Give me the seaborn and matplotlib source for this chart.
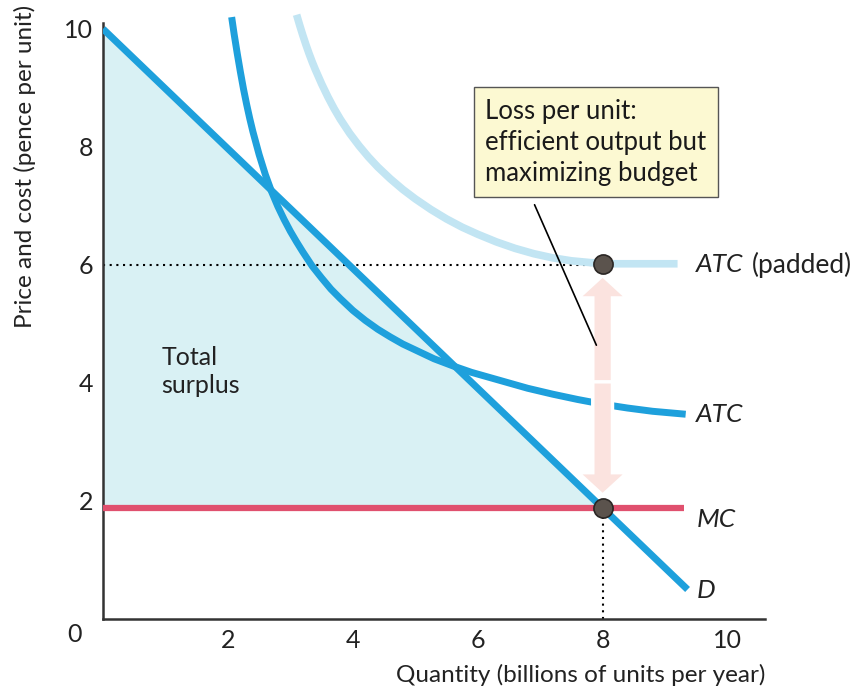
import matplotlib
matplotlib.use("Agg")
import matplotlib.pyplot as plt
import matplotlib.patheffects as pe
import seaborn as sns

# demand curve D
d_x = [0, 8, 9.36]
d_y = [10, 1.88, 0.5]

# marginal cost MC (flat)
mc_x = [0, 9.31]
mc_y = [1.88, 1.88]

# average total cost ATC
atc_x = [2.06, 2.1, 2.15, 2.2, 2.25, 2.3, 2.35, 2.4, 2.5, 2.6, 2.7, 2.8, 2.9, 3.0,
         3.1, 3.2, 3.35, 3.5, 3.65, 3.8, 4.0, 4.2, 4.4, 4.6, 4.8, 5.0, 5.3, 5.6,
         5.9, 6.2, 6.5, 6.8, 7.2, 7.6, 8.0, 8.4, 8.8, 9.33]
atc_y = [10.2, 9.91, 9.58, 9.27, 8.98, 8.72, 8.48, 8.26, 7.87, 7.53, 7.24, 6.99, 6.77, 6.57,
         6.39, 6.22, 5.98, 5.78, 5.59, 5.43, 5.23, 5.06, 4.91, 4.78, 4.66, 4.56, 4.41, 4.29,
         4.18, 4.09, 4.0, 3.91, 3.81, 3.72, 3.64, 3.575, 3.52, 3.47]

# padded ATC
pad_x = [3.10, 3.15, 3.2, 3.25, 3.3, 3.35, 3.4, 3.5, 3.6, 3.7, 3.8, 3.95, 4.1, 4.25,
         4.4, 4.6, 4.8, 5.0, 5.25, 5.5, 5.75, 6.0, 6.3, 6.6, 6.9, 7.2, 7.5, 7.8,
         8.1, 8.6, 9.2]
pad_y = [10.24, 10.06, 9.89, 9.73, 9.58, 9.44, 9.31, 9.07, 8.85, 8.65, 8.47, 8.23, 8.02, 7.83,
         7.66, 7.46, 7.28, 7.12, 6.94, 6.78, 6.64, 6.52, 6.39, 6.28, 6.19, 6.12, 6.07, 6.04,
         6.02, 6.02, 6.02]

# points
q_eff = 8
p_padded = 6.02
p_mc = 1.88

x_ticks = [2, 4, 6, 8, 10]
y_ticks = [2, 4, 6, 8, 10]

blue = "#1ea0dc"
light_blue = "#c2e5f3"
red = "#e0506e"
fill_col = "#d9f1f4"
dot_col = "#5b534d"
arrow_col = "#fbe3df"

sns.set_theme(style="white")
plt.rcParams["font.family"] = ["Lato", "DejaVu Sans"]

fig = plt.figure(figsize=(8.58, 6.9), dpi=100)
ax = fig.add_axes([103 / 858, 1 - 619 / 690, 662 / 858, 596 / 690])

# total surplus
ax.fill_between(d_x[:2], d_y[:2], mc_y[0], color=fill_col, lw=0, zorder=1)

ax.plot([0, q_eff], [6, 6], color="black", ls=(0, (1, 2.2)), lw=1.5, zorder=2)
ax.plot([q_eff, q_eff], [0, p_mc], color="black", ls=(0, (1, 2.2)), lw=1.5, zorder=2)

sns.lineplot(x=pad_x, y=pad_y, ax=ax, color=light_blue, lw=5.5, estimator=None, sort=False, zorder=3)
ax.lines[-1].set_clip_on(False)
sns.lineplot(x=mc_x, y=mc_y, ax=ax, color=red, lw=4.5, estimator=None, sort=False, zorder=3)
sns.lineplot(x=atc_x, y=atc_y, ax=ax, color=blue, lw=5, estimator=None, sort=False, zorder=4)
ax.lines[-1].set_clip_on(False)
sns.lineplot(x=d_x, y=d_y, ax=ax, color=blue, lw=5, estimator=None, sort=False, zorder=4)
for ln in ax.lines[-4:]:
    ln.set_solid_joinstyle("round")
    ln.set_solid_capstyle("butt")

# double arrow: loss per unit
mid = (p_padded + p_mc) / 2 + 0.04
for end in (5.78, 2.14):
    ax.arrow(q_eff, mid, 0, end - mid, width=0.26, head_width=0.64, head_length=0.31,
             length_includes_head=True, color=arrow_col, lw=0, zorder=5,
             path_effects=[pe.Stroke(linewidth=5, foreground="white"), pe.Normal()])

ax.scatter([q_eff, q_eff], [p_padded, p_mc], s=190, color=dot_col, edgecolor="#2a2624",
           lw=1.2, zorder=7)

# callout
ax.plot([6.91, 7.90], [7.02, 4.64], color="black", lw=1.2, zorder=6)
ax.text(6.12, 8.08, "Loss per unit:\nefficient output but\nmaximizing budget",
        fontsize=18.5, va="center", ha="left", linespacing=1.3, color="#1a1a1a", zorder=8,
        bbox=dict(boxstyle="square,pad=0.45", fc="#fcf9d2", ec="#555555", lw=1))

# curve labels
t = ax.text(9.5, 6.0, "ATC", style="italic", fontsize=19, va="center", color="#222222")
ax.annotate("(padded)", xy=(1, 0.5), xycoords=t, xytext=(6, 0), textcoords="offset points",
            fontsize=19, va="center", color="#222222")
ax.text(9.5, 3.46, "ATC", style="italic", fontsize=19, va="center", color="#222222")
ax.text(9.5, 1.68, "MC", style="italic", fontsize=19, va="center", color="#222222")
ax.text(9.5, 0.49, "D", style="italic", fontsize=19, va="center", color="#222222")
ax.text(0.94, 4.2, "Total\nsurplus", fontsize=18, va="center", ha="left",
        linespacing=1.25, color="#222222")

ax.set_xlim(0, 10.6)
ax.set_ylim(0, 10.1)
ax.set_xticks(x_ticks)
ax.set_yticks(y_ticks)
ax.tick_params(direction="in", length=9, width=1.4, colors="#333333", labelsize=18,
               labelcolor="#222222", pad=7)
ax.annotate("0", xy=(0, 0), xytext=(-28, -16), textcoords="offset pixels",
            fontsize=18, ha="center", va="center", color="#222222")
for s in ["top", "right"]:
    ax.spines[s].set_visible(False)
for s in ["left", "bottom"]:
    ax.spines[s].set_color("#333333")
    ax.spines[s].set_linewidth(1.8)
ax.patch.set_alpha(0)

fig.text(25 / 858, 1 - 5 / 690, "Price and cost (pence per unit)", rotation=90,
         ha="center", va="top", fontsize=17.5, color="#222222")
fig.text(765 / 858, 1 - 675 / 690, "Quantity (billions of units per year)",
         ha="right", va="center", fontsize=17.5, color="#222222")

fig.savefig("out.png", dpi=100)
